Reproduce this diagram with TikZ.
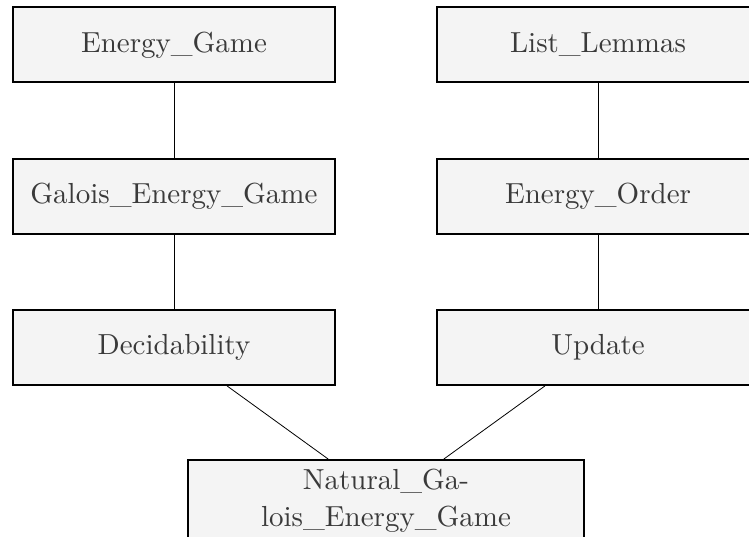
\documentclass[tikz,border=0pt]{standalone}
\usepackage{fontspec}
\setmainfont{lmroman10-regular.otf}
\usepackage{xcolor}
\usepackage{tikz}

\definecolor{boxfill}{HTML}{F4F4F4}
\definecolor{boxtext}{HTML}{3A3A3A}

\begin{document}
\begin{tikzpicture}[
  x=1pt, y=-1pt,
  box/.style={rectangle, draw=black, line width=2pt, fill=boxfill, text=boxtext,
    minimum width=322pt, minimum height=75pt, inner sep=0pt,
    font=\fontsize{29}{37.5}\selectfont},
  line/.style={-, line width=0.8pt}
]
\useasboundingbox (0,0) rectangle (749,537);
\clip (0,0) rectangle (749,537);

\node[box] (game) at (174,45) {Energy\_Game};
\node[box] (lemmas) at (598,45) {List\_Lemmas};
\node[box] (galois) at (174,196.5) {Galois\_Energy\_Game};
\node[box] (order) at (598,196.5) {Energy\_Order};
\node[box] (decide) at (174,347.5) {Decidability};
\node[box] (update) at (598,347.5) {Update};
\node[box, minimum width=396pt, minimum height=82pt, align=center] (natural) at (386,501)
  {Natural\_Ga-\\lois\_Energy\_Game};

\draw[line] (game) -- (galois);
\draw[line] (galois) -- (decide);
\draw[line] (lemmas) -- (order);
\draw[line] (order) -- (update);
\draw[line] (decide) -- (natural);
\draw[line] (update) -- (natural);

\end{tikzpicture}
\end{document}
